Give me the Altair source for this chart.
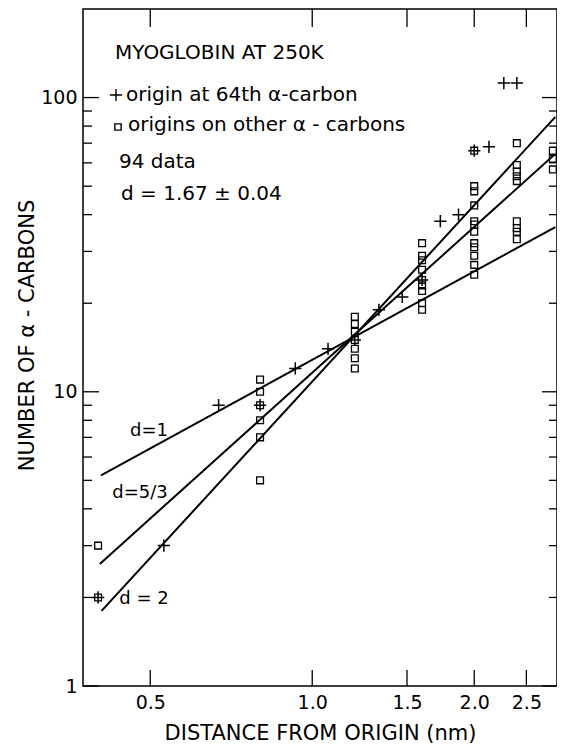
import altair as alt
import pandas as pd

FONT = "DejaVu Sans"

# ---------------- data ----------------
# crosses: origin at 64th alpha-carbon
cross_x = [0.40, 0.53, 0.67, 0.80, 0.93, 1.07, 1.20, 1.33, 1.47, 1.60, 1.73, 1.87, 2.00, 2.13, 2.27, 2.40]
cross_y = [2, 3, 9, 9, 12, 14, 15, 19, 21, 24, 38, 40, 66, 68, 112, 112]

# squares: origins on other alpha-carbons (one list of counts per distance column)
square_cols = [0.4, 0.8, 1.2, 1.6, 2.0, 2.4, 2.8]
square_vals = [
    [3, 2],
    [11, 10, 9, 8, 7, 5],
    [18, 17, 16, 15, 14, 13, 12],
    [32, 29, 28, 26, 24, 23, 22, 20, 19],
    [66, 50, 48, 43, 38, 37, 35, 32, 31, 29, 27, 25],
    [70, 59, 56, 54, 52, 38, 36, 35, 33],
    [66, 62, 57],
]

# fitted power laws (end points of each straight line)
fit_names = ["d=1", "d=5/3", "d=2"]
fit_x0 = [0.405, 0.403, 0.406]
fit_y0 = [5.2, 2.6, 1.8]
fit_x1 = [2.83, 2.82, 2.83]
fit_y1 = [36.3, 64.0, 86.0]

# axis ticks
x_ticks = [0.5, 1.0, 1.5, 2.0, 2.5]
y_major = [1, 10, 100]
y_minor = [2, 3, 4, 5, 6, 7, 8, 9, 20, 30, 40, 50, 60, 70, 80, 90]

# ---------------- tables ----------------
cross_df = pd.DataFrame({"x": cross_x, "y": cross_y})
sq_rows = []
for cx, vals in zip(square_cols, square_vals):
    for v in vals:
        sq_rows.append({"x": cx, "y": v})
sq_df = pd.DataFrame(sq_rows)
fit_rows = []
for n, a, b, c, d in zip(fit_names, fit_x0, fit_y0, fit_x1, fit_y1):
    fit_rows.append({"fit": n, "x": a, "y": b})
    fit_rows.append({"fit": n, "x": c, "y": d})
fit_df = pd.DataFrame(fit_rows)

W, H = 474, 677

xscale = alt.Scale(type="log", domain=[0.375, 2.85], nice=False)
yscale = alt.Scale(type="log", domain=[1, 200], nice=False)

xaxis = alt.Axis(values=x_ticks, format=".1f", title="DISTANCE FROM ORIGIN (nm)",
                 ticks=False, tickSize=0, domain=False, grid=False,
                 labelFont=FONT, labelFontSize=19, labelColor="black", labelPadding=7,
                 labelFlush=False,
                 titleFont=FONT, titleFontSize=21, titleFontWeight="normal", titleColor="black",
                 titleBaseline="alphabetic", titleY=53)
yaxis = alt.Axis(values=y_major, format="d", title="NUMBER OF α - CARBONS",
                 ticks=False, tickSize=0, domain=False, grid=False,
                 labelFont=FONT, labelFontSize=19, labelColor="black", labelPadding=6,
                 labelOverlap=False,
                 titleFont=FONT, titleFontSize=21, titleFontWeight="normal", titleColor="black",
                 titleAngle=270, titleAlign="center", titleBaseline="middle",
                 titleX=-56, titleY=326)


def X(f):
    return alt.X(f, scale=xscale, axis=xaxis, title="DISTANCE FROM ORIGIN (nm)")


def Y(f):
    return alt.Y(f, scale=yscale, axis=yaxis, title="NUMBER OF α - CARBONS")


lines = alt.Chart(fit_df).mark_line(color="black", strokeWidth=2).encode(
    x=X("x:Q"), y=Y("y:Q"), detail="fit:N")

squares = alt.Chart(sq_df).mark_point(shape="square", filled=False, size=46, color="black",
                                      strokeWidth=1.3, opacity=1).encode(x=X("x:Q"), y=Y("y:Q"))

CROSS = "M-1,0L1,0M0,-1L0,1"
crosses = alt.Chart(cross_df).mark_point(shape=CROSS, filled=False, size=150, color="black",
                                         strokeWidth=1.5, opacity=1).encode(x=X("x:Q"), y=Y("y:Q"))

# inward ticks on all four sides
ymaj_df = pd.DataFrame({"v": y_major})
ymin_df = pd.DataFrame({"v": y_minor})
xt_df = pd.DataFrame({"v": x_ticks})
tk = dict(color="black", strokeWidth=1.3)
left_major = alt.Chart(ymaj_df).mark_rule(**tk).encode(y=Y("v:Q"), x=alt.value(0), x2=alt.value(16))
left_minor = alt.Chart(ymin_df).mark_rule(**tk).encode(y=Y("v:Q"), x=alt.value(0), x2=alt.value(9))
right_major = alt.Chart(ymaj_df).mark_rule(**tk).encode(y=Y("v:Q"), x=alt.value(W), x2=alt.value(W - 15))
right_minor = alt.Chart(ymin_df).mark_rule(**tk).encode(y=Y("v:Q"), x=alt.value(W), x2=alt.value(W - 8))
top_t = alt.Chart(xt_df).mark_rule(**tk).encode(x=X("v:Q"), y=alt.value(0), y2=alt.value(18))
bot_t = alt.Chart(xt_df).mark_rule(**tk).encode(x=X("v:Q"), y=alt.value(H), y2=alt.value(H - 16))


def label(txt, x, y, size=20, align="left", baseline="alphabetic"):
    return alt.Chart(pd.DataFrame({"t": [txt]})).mark_text(
        align=align, baseline=baseline, fontSize=size, font=FONT, color="black"
    ).encode(x=alt.value(x), y=alt.value(y), text="t:N")


def symbol(shape, x, y, size):
    return alt.Chart(pd.DataFrame({"t": [0]})).mark_point(
        shape=shape, filled=False, size=size, color="black", strokeWidth=1.4, opacity=1
    ).encode(x=alt.value(x), y=alt.value(y))


annots = [
    label("MYOGLOBIN AT 250K", 32, 50),
    symbol(CROSS, 33, 86, 150),
    label("origin at 64th α-carbon", 43, 92),
    symbol("square", 35, 118, 40),
    label("origins on other α - carbons", 45, 122),
    label("94 data", 36, 159),
    label("d = 1.67 ± 0.04", 38, 191),
    label("d=1", 66, 422, size=18, align="center", baseline="middle"),
    label("d=5/3", 57, 484, size=18, align="center", baseline="middle"),
    label("d = 2", 61, 590, size=18, align="center", baseline="middle"),
]

chart = alt.layer(
    lines, squares, crosses,
    left_major, left_minor, right_major, right_minor, top_t, bot_t,
    *annots
).properties(
    width=W, height=H,
    autosize=alt.AutoSizeParams(type="none"),
    padding={"left": 75, "top": 1, "right": 0, "bottom": 57},
    background="white",
).configure_view(stroke="black", strokeWidth=1.5)

chart.save("out.html", embed_options={"renderer": "svg", "actions": False})
